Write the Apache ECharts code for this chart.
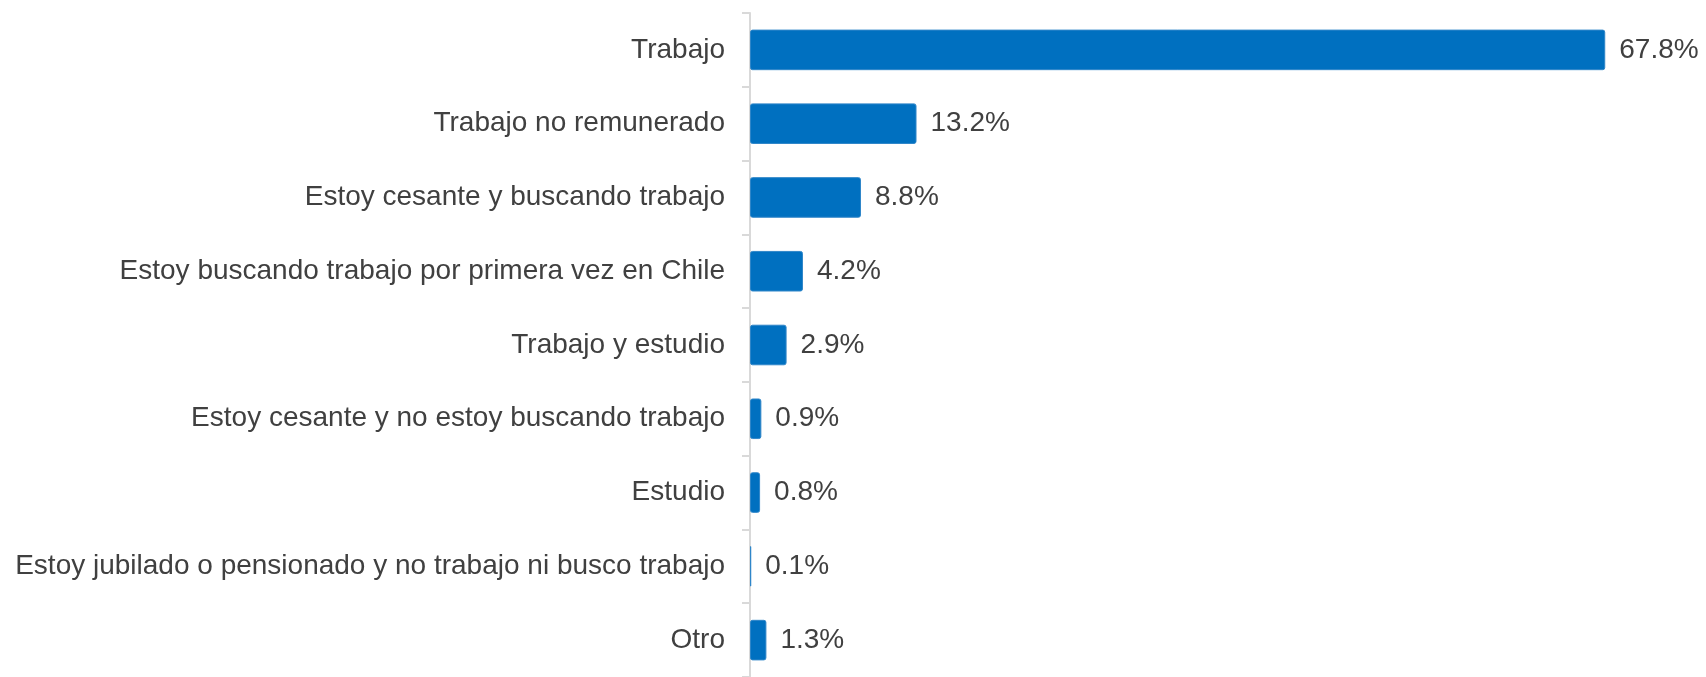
<!DOCTYPE html>
<html>
<head>
<meta charset="utf-8">
<script src="https://cdn.jsdelivr.net/npm/echarts@6/dist/echarts.min.js"></script>
<style>
  html, body { margin: 0; padding: 0; background: #fff; }
  #chart { width: 1706px; height: 677px; }
</style>
</head>
<body>
<div id="chart"></div>
<script>
var categories = [
    'Trabajo',
    'Trabajo no remunerado',
    'Estoy cesante y buscando trabajo',
    'Estoy buscando trabajo por primera vez en Chile',
    'Trabajo y estudio',
    'Estoy cesante y no estoy buscando trabajo',
    'Estudio',
    'Estoy jubilado o pensionado y no trabajo ni busco trabajo',
    'Otro'
];
var values = [67.8, 13.2, 8.8, 4.2, 2.9, 0.9, 0.8, 0.1, 1.3];

var myChart = echarts.init(document.getElementById('chart'));

var option = {
    animation: false,
    textStyle: { fontFamily: 'Liberation Sans, Arial, sans-serif' },
    grid: {
        left: 750,
        right: 73,
        top: 13,
        bottom: -4,
        containLabel: false
    },
    xAxis: {
        type: 'value',
        min: 0,
        max: 70,
        show: false
    },
    yAxis: {
        type: 'category',
        inverse: true,
        data: categories,
        axisLine: { lineStyle: { color: '#d9d9d9', width: 2 } },
        axisTick: { show: true, length: 8, lineStyle: { color: '#d9d9d9', width: 2 } },
        axisLabel: {
            margin: 25,
            fontSize: 28,
            color: '#404040',
            padding: [6, 0, 0, 0],
            fontFamily: 'Liberation Sans, Arial, sans-serif'
        }
    },
    series: [{
        type: 'bar',
        data: values,
        barWidth: '55%',
        itemStyle: {
            color: '#0070C0',
            borderColor: '#2f86c9',
            borderWidth: 1,
            borderRadius: 2
        },
        label: {
            show: true,
            position: 'right',
            distance: 14,
            fontSize: 28,
            color: '#404040',
            padding: [6, 0, 0, 0],
            fontFamily: 'Liberation Sans, Arial, sans-serif',
            formatter: function (p) { return p.value.toFixed(1) + '%'; }
        }
    }]
};

myChart.setOption(option);
</script>
</body>
</html>
